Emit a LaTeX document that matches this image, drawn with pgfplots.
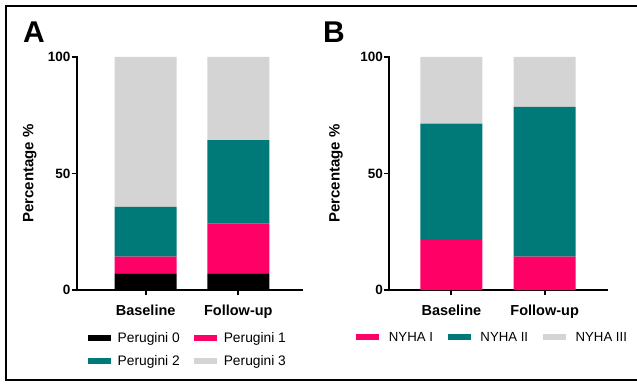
\documentclass[border=0pt]{standalone}
\usepackage{fontspec}
\setmainfont{Liberation Sans}
\usepackage{pgfplots}
\pgfplotsset{compat=1.18}
\definecolor{cpink}{HTML}{FF0066}
\definecolor{cteal}{HTML}{007A78}
\definecolor{cgray}{HTML}{D4D4D4}
\pgfplotsset{
  sq/.style={legend image code/.code={\fill[##1,draw=none] (0bp,-3bp) rectangle (23bp,3bp);}},
  myaxis/.style={
    scale only axis, height=233bp,
    ymin=0, ymax=100, ytick={0,50,100},
    xtick={0,1}, xticklabels={Baseline,Follow-up},
    axis x line*=bottom, axis y line*=left,
    axis line style={-, line width=1.8bp, line cap=rect},
    tick align=outside, major tick length=5bp,
    tick style={line width=1.8bp, black},
    ybar stacked, bar width=62bp,
    y tick label style={font=\fontsize{13.5bp}{16bp}\selectfont\bfseries, /pgf/number format/assume math mode=true, inner sep=1bp},
    x tick label style={font=\fontsize{14.5bp}{17bp}\selectfont\bfseries, inner sep=0pt, anchor=base, yshift=-20.5bp},
    ylabel={Percentage \%},
    ylabel style={font=\fontsize{15bp}{18bp}\selectfont\bfseries, at={(rel axis cs:0,0.5)}, anchor=center},
    legend style={draw=none, fill=none, inner sep=0pt,
      nodes={inner sep=1bp, anchor=west}, row sep=10bp},
    legend cell align=left,
  }
}
\begin{document}
\begin{tikzpicture}[x=1bp,y=1bp]
\useasboundingbox (0,0) rectangle (637,383);
\draw[line width=2bp] (640,377) -- (6,377) -- (6,3) -- (640,3);
\node[anchor=base west, inner sep=0pt, font=\fontsize{30bp}{32bp}\selectfont\bfseries] at (23,341) {A};
\node[anchor=base west, inner sep=0pt, font=\fontsize{30bp}{32bp}\selectfont\bfseries] at (323,341) {B};

\begin{axis}[myaxis, at={(76.7bp,93bp)}, anchor=south west, width=225bp,
  xmin=-0.744, xmax=1.684,
  ylabel style={yshift=47bp},
  legend columns=2,
  legend style={at={(rel axis cs:0.05,0)}, anchor=north west, yshift=-41bp,
    font=\fontsize{13.8bp}{16bp}\selectfont,
    /tikz/every odd column/.append style={column sep=5.5bp},
    /tikz/every even column/.append style={column sep=13.5bp}},
]
\addplot[fill=black, draw=none, sq] coordinates {(0,7.14) (1,7.14)};
\addplot[fill=cpink, draw=none, sq] coordinates {(0,7.14) (1,21.43)};
\addplot[fill=cteal, draw=none, sq] coordinates {(0,21.43) (1,35.71)};
\addplot[fill=cgray, draw=none, sq] coordinates {(0,64.29) (1,35.72)};
\legend{Perugini 0, Perugini 1, Perugini 2, Perugini 3}
\end{axis}

\begin{axis}[myaxis, at={(389bp,93bp)}, anchor=south west, width=218.3bp,
  xmin=-0.668, xmax=1.671,
  ylabel style={yshift=53bp},
  legend columns=3,
  legend style={at={(rel axis cs:-0.15,0)}, anchor=north west, yshift=-41bp,
    font=\fontsize{13.2bp}{16bp}\selectfont,
    /tikz/every odd column/.append style={column sep=8.5bp},
    /tikz/every even column/.append style={column sep=14bp}},
]
\addplot[fill=cpink, draw=none, sq] coordinates {(0,21.43) (1,14.29)};
\addplot[fill=cteal, draw=none, sq] coordinates {(0,50.00) (1,64.29)};
\addplot[fill=cgray, draw=none, sq] coordinates {(0,28.57) (1,21.42)};
\legend{NYHA I, NYHA II, NYHA III}
\end{axis}
\end{tikzpicture}
\end{document}
